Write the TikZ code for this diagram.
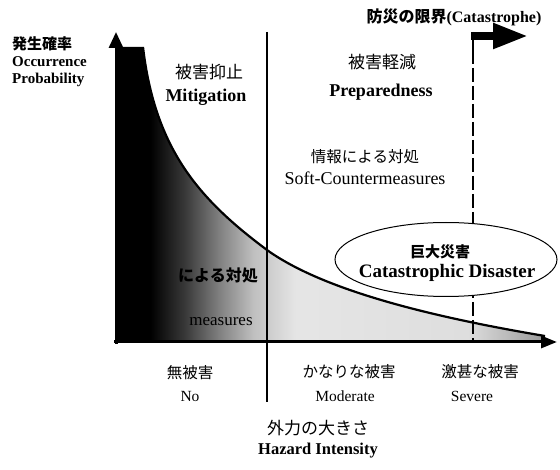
\documentclass[tikz,border=0pt]{standalone}
\usepackage{fontspec}
\setmainfont{Liberation Serif}
\newfontfamily\jp{Noto Sans CJK JP}
\usetikzlibrary{arrows.meta}
\pgfdeclarehorizontalshading{hazardshade}{100bp}{color(0bp)=(black); color(29bp)=(black); color(33bp)=(black!78); color(37bp)=(black!50); color(41bp)=(black!25); color(46bp)=(black!10); color(66bp)=(black!13); color(75bp)=(black!40); color(100bp)=(black!40)}
\tikzset{
  lbl/.style={inner sep=0pt, anchor=center},
  jpbig/.style={lbl, font=\jp\fontsize{17}{18}\selectfont},
  jpmid/.style={lbl, font=\jp\fontsize{15.5}{17}\selectfont},
  jpbold/.style={lbl, font=\jp\bfseries\fontsize{15}{17}\selectfont},
  enbig/.style={lbl, font=\bfseries\fontsize{18}{20}\selectfont},
  enreg/.style={lbl, font=\fontsize{18}{20}\selectfont},
  ensmall/.style={lbl, font=\fontsize{15.5}{17}\selectfont},
  axisline/.style={line width=3pt},
}
\begin{document}
\begin{tikzpicture}[x=1pt,y=-1pt]
\useasboundingbox (0,0) rectangle (560,470);
% shaded region under the curve
\shade[shading=hazardshade] (116,342) -- (116,47) -- (143,47)
  .. controls (155,150) and (200,200) .. (267,250)
  .. controls (320,288) and (420,315) .. (545,336) -- (545,342) -- cycle;
% curve
\draw[line width=2.2pt] (143,47) .. controls (155,150) and (200,200) .. (267,250)
  .. controls (320,288) and (420,315) .. (545,336);
% divider lines
\draw[line width=2.6pt] (267,32) -- (267,402);
\draw[line width=2.5pt] (473,32) -- (473,50);
\draw[line width=2.5pt, dash pattern=on 14pt off 4pt] (473,50) -- (473,342);
\draw[line width=8pt, -{Triangle[length=35pt,width=24pt]}] (471,36) -- (528,36);
% axes
\draw[axisline, -{Triangle[length=16pt,width=14pt]}] (116,344) -- (116,32);
\draw[axisline, -{Triangle[length=16pt,width=12pt]}] (114,342) -- (557,342);
% catastrophic disaster ellipse
\draw[fill=white, line width=1pt] (446,259.5) ellipse [x radius=111, y radius=37];
% labels
\node[jpbold, anchor=west] (occJ) at (12,44) {発生確率};
\node[lbl, anchor=west, font=\bfseries\fontsize{15}{17}\selectfont] (occE1) at (12,62) {Occurrence};
\node[lbl, anchor=west, font=\bfseries\fontsize{15}{17}\selectfont] (occE2) at (12,80) {Probability};
\node[lbl, font=\bfseries\fontsize{16}{18}\selectfont] (catTop) at (454,17) {{\jp 防災の限界}(Catastrophe)};
\node[jpbig] (mitJ) at (209,72) {被害抑止};
\node[enbig] (mitE) at (206,97) {Mitigation};
\node[jpbig] (preJ) at (382,62) {被害軽減};
\node[enbig] (preE) at (381,92) {Preparedness};
\node[jpmid] (softJ) at (365,157) {情報による対処};
\node[enreg] (softE) at (365,178) {Soft-Countermeasures};
\node[jpbold] (disJ) at (440,252) {巨大災害};
\node[lbl, font=\bfseries\fontsize{19}{21}\selectfont] (disE) at (447,273) {Catastrophic Disaster};
\node[jpbold, font=\jp\bfseries\fontsize{16}{18}\selectfont] (hardJ) at (218,275) {による対処};
\node[lbl, font=\fontsize{17}{19}\selectfont] (hardE) at (221,322) {measures};
\node[jpmid] (noJ) at (190,373) {無被害};
\node[ensmall] (noE) at (190,397) {No};
\node[jpmid] (modJ) at (349,372) {かなりな被害};
\node[ensmall] (modE) at (345,396) {Moderate};
\node[jpmid] (sevJ) at (480,372) {激甚な被害};
\node[ensmall] (sevE) at (472,396) {Severe};
\node[jpbig] (hazJ) at (318,428) {外力の大きさ};
\node[lbl, font=\bfseries\fontsize{16.5}{18}\selectfont] (hazE) at (318,451) {Hazard Intensity};
\end{tikzpicture}
\end{document}
